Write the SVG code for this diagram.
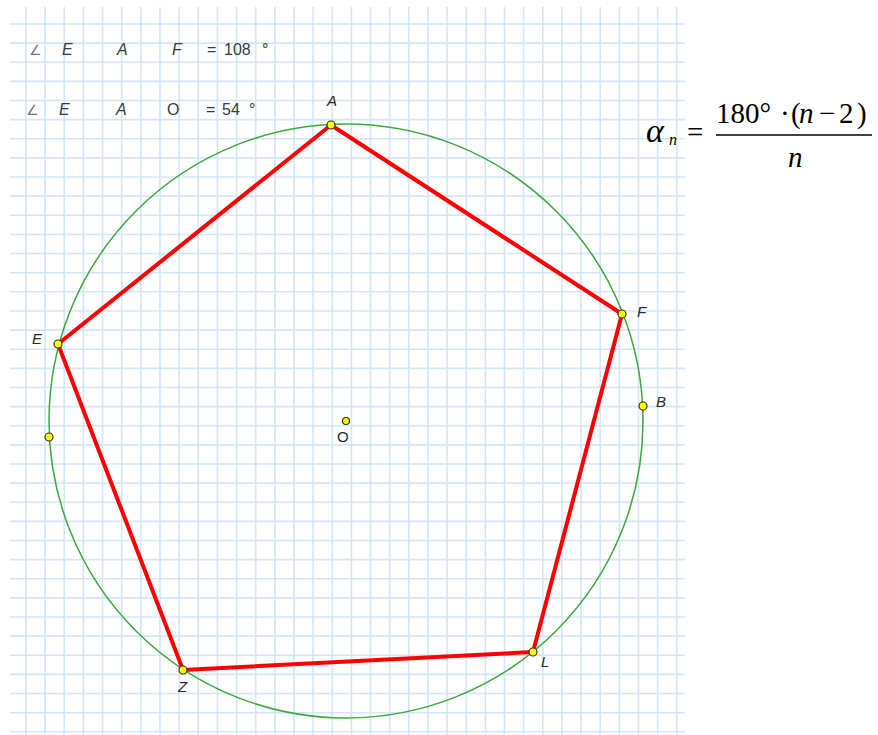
<svg xmlns="http://www.w3.org/2000/svg" width="878" height="735" viewBox="0 0 878 735">
<style>
.grid{stroke:#d3e6fc;stroke-width:1.6;fill:none}
.lbl{font-family:"Liberation Sans",Arial,sans-serif;font-size:15px;font-style:italic;fill:#2a2a2a}
.up{font-family:"Liberation Sans",Arial,sans-serif;font-size:15px;fill:#2a2a2a}
.top{font-family:"Liberation Sans",Arial,sans-serif;font-size:16px;fill:#3a3a3a}
.topi{font-family:"Liberation Sans",Arial,sans-serif;font-size:16px;font-style:italic;fill:#3a3a3a}
.ang{font-family:"DejaVu Sans",sans-serif;font-size:14px;fill:#777}
.pt{fill:#ffff00;stroke:#333;stroke-width:1.2}
.edge{stroke:#ff0000;stroke-width:4;stroke-linecap:round;fill:none}
.m{font-family:"Liberation Serif","Times New Roman",serif;font-size:29px;fill:#000}
.al{font-family:"Liberation Serif","Times New Roman",serif;font-size:34px;font-style:italic;fill:#000}
.sub{font-family:"Liberation Serif","Times New Roman",serif;font-size:16px;font-style:italic;fill:#000}
</style>
<rect width="878" height="735" fill="#fff"/>
<g id="grid">
<path class="grid" d="M26 7V735M45.14 7V735M64.28 7V735M83.42 7V735M102.56 7V735M121.7 7V735M140.84 7V735M159.98 7V735M179.12 7V735M198.26 7V735M217.4 7V735M236.54 7V735M255.68 7V735M274.82 7V735M293.96 7V735M313.1 7V735M332.24 7V735M351.38 7V735M370.52 7V735M389.66 7V735M408.8 7V735M427.94 7V735M447.08 7V735M466.22 7V735M485.36 7V735M504.5 7V735M523.64 7V735M542.78 7V735M561.92 7V735M581.06 7V735M600.2 7V735M619.34 7V735M638.48 7V735M657.62 7V735M676.76 7V735"/>
<path class="grid" d="M10 24H685M10 43.13H685M10 62.26H685M10 81.39H685M10 100.52H685M10 119.65H685M10 138.78H685M10 157.91H685M10 177.04H685M10 196.17H685M10 215.3H685M10 234.43H685M10 253.56H685M10 272.69H685M10 291.82H685M10 310.95H685M10 330.08H685M10 349.21H685M10 368.34H685M10 387.47H685M10 406.6H685M10 425.73H685M10 444.86H685M10 463.99H685M10 483.12H685M10 502.25H685M10 521.38H685M10 540.51H685M10 559.64H685M10 578.77H685M10 597.9H685M10 617.03H685M10 636.16H685M10 655.29H685M10 674.42H685M10 693.55H685M10 712.68H685M10 731.81H685"/>
</g>
<g id="measurements">
<text class="ang" x="29" y="55">∠</text>
<text class="topi" x="62" y="55">E</text>
<text class="topi" x="117" y="55">A</text>
<text class="topi" x="172" y="55">F</text>
<text class="top" y="55"><tspan x="207">=</tspan><tspan x="224">108</tspan><tspan x="262">°</tspan></text>
<text class="ang" x="26" y="115">∠</text>
<text class="topi" x="59" y="115">E</text>
<text class="topi" x="116" y="115">A</text>
<text class="top" x="167" y="115">O</text>
<text class="top" y="115"><tspan x="206">=</tspan><tspan x="222">54</tspan><tspan x="249">°</tspan></text>
</g>
<g id="circle"><circle cx="346" cy="421" r="297" fill="none" stroke="#3aaa3a" stroke-width="1.5"/></g>
<g id="connectors">
<line class="edge" x1="331" y1="125" x2="622" y2="314"/>
<line class="edge" x1="622" y1="314" x2="533" y2="652"/>
<line class="edge" x1="533" y1="652" x2="183" y2="670"/>
<line class="edge" x1="183" y1="670" x2="58" y2="344"/>
<line class="edge" x1="58" y1="344" x2="331" y2="125"/>
</g>
<g id="A"><circle class="pt" cx="331" cy="125" r="4"/><text class="lbl" x="327" y="106">A</text></g>
<g id="F"><circle class="pt" cx="622" cy="314" r="4"/><text class="lbl" x="637" y="317">F</text></g>
<g id="L"><circle class="pt" cx="533" cy="652" r="4"/><text class="lbl" x="541" y="667">L</text></g>
<g id="Z"><circle class="pt" cx="183" cy="670" r="4"/><text class="lbl" x="178" y="692">Z</text></g>
<g id="E"><circle class="pt" cx="58" cy="344" r="4"/><text class="lbl" x="32" y="344">E</text></g>
<g id="B"><circle class="pt" cx="643" cy="406" r="4"/><text class="lbl" x="656" y="407">B</text></g>
<g id="P"><circle class="pt" cx="49" cy="437" r="4"/></g>
<g id="O"><circle class="pt" cx="346" cy="421" r="3.5"/><text class="up" x="337" y="442">O</text></g>
<g id="formula">
<text class="al" x="646" y="142">α</text>
<text class="sub" x="669" y="145">n</text>
<text class="m" x="687" y="142">=</text>
<line x1="716" y1="135" x2="872" y2="135" stroke="#000" stroke-width="1.3"/>
<text class="m" y="123"><tspan x="716">180°</tspan><tspan x="780">·</tspan><tspan x="791">(</tspan><tspan x="799" font-style="italic">n</tspan><tspan x="819">−</tspan><tspan x="839">2</tspan><tspan x="857">)</tspan></text>
<text class="m" x="788" y="167" font-style="italic">n</text>
</g>
</svg>
